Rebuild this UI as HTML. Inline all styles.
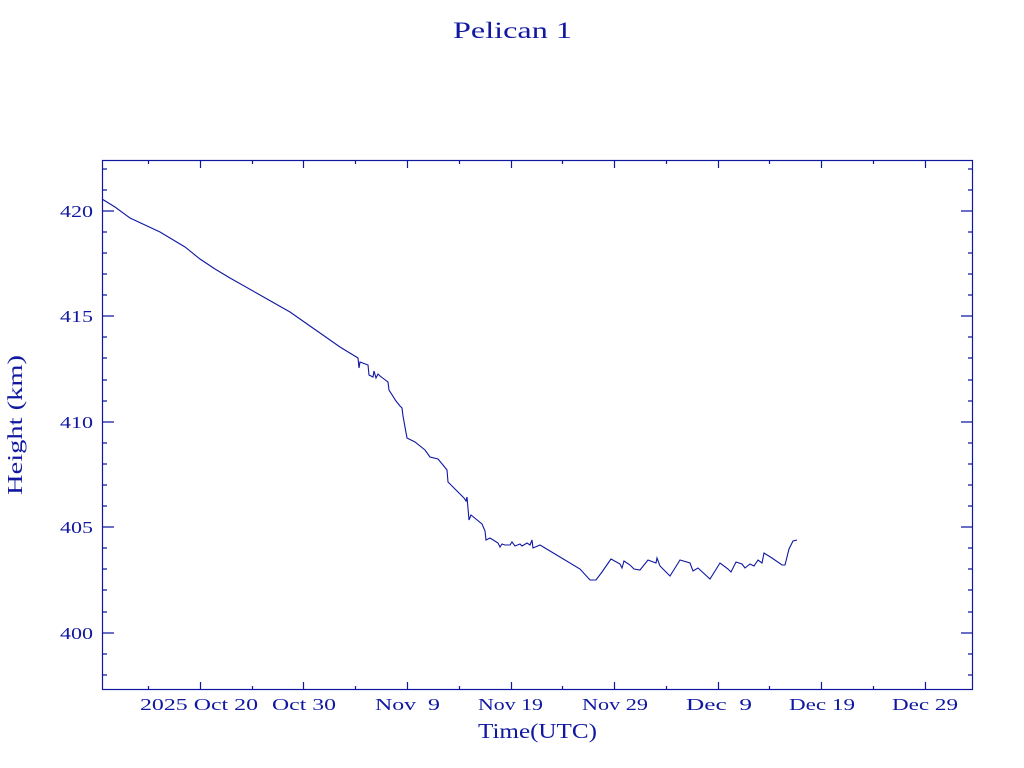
<!DOCTYPE html>
<html><head><style>
html,body{margin:0;padding:0;background:#fff;}
svg{display:block;}
text{font-family:"Liberation Serif",serif;fill:#1018a0;}
</style></head><body>
<svg width="1024" height="768" viewBox="0 0 1024 768">
<g stroke="#1018a0" stroke-width="1.2" fill="none">
<rect x="102.5" y="160.5" width="870" height="529"/>
<path d="M102 169h5M102 190h5M102 211h12M102 232h5M102 253h5M102 274h5M102 295h5M102 316h12M102 337h5M102 358h5M102 380h5M102 401h5M102 422h12M102 443h5M102 464h5M102 485h5M102 506h5M102 527h12M102 548h5M102 569h5M102 590h5M102 612h5M102 633h12M102 654h5M102 675h5"/>
<path d="M973 169h-5M973 190h-5M973 211h-12M973 232h-5M973 253h-5M973 274h-5M973 295h-5M973 316h-12M973 337h-5M973 358h-5M973 380h-5M973 401h-5M973 422h-12M973 443h-5M973 464h-5M973 485h-5M973 506h-5M973 527h-12M973 548h-5M973 569h-5M973 590h-5M973 612h-5M973 633h-12M973 654h-5M973 675h-5"/>
<path d="M148.5 690v-4M200.5 690v-8M252.5 690v-4M303.5 690v-8M355.5 690v-4M407.5 690v-8M459.5 690v-4M511.5 690v-8M562.5 690v-4M614.5 690v-8M666.5 690v-4M718.5 690v-8M769.5 690v-4M821.5 690v-8M873.5 690v-4M925.5 690v-8"/>
<path d="M148.5 160v4M200.5 160v8M252.5 160v4M303.5 160v8M355.5 160v4M407.5 160v8M459.5 160v4M511.5 160v8M562.5 160v4M614.5 160v8M666.5 160v4M718.5 160v8M769.5 160v4M821.5 160v8M873.5 160v4M925.5 160v8"/>
<polyline stroke-width="1.1" points="102,199 115,207 130,218 160,232 185,247 200,259 215,269 230,278 260,295 290,312 310,326 330,340 340,347 358,358 359,368 360,362 368,365 369,375 373,377 374,371 376,378 378,374 380,376 388,382 389,390 396,401 400,406 402,408 403,416 407,438 415,442 425,450 430,457 438,459 443,465 447,470 448,482 458,492 464,498 466,501 467,497 469,520 471,515 482,524 485,531 486,540 490,538 498,543 500,547 502,544 505,545 510,545 512,542 515,546 520,544 522,546 527,543 530,545 532,540 533,548 540,545 560,557 580,569 590,580 596,580 602,572 611,559 620,564 622,568 624,561 630,565 634,569 640,570 648,560 656,563 657,558 660,566 670,576 680,560 690,563 693,571 698,568 710,579 720,563 728,569 731,572 736,562 742,564 745,568 750,564 754,566 758,560 762,563 764,553 772,558 782,565 785,565 789,549 793,541 797,540"/>
</g>
<text x="453" y="38" font-size="23" textLength="119" lengthAdjust="spacingAndGlyphs">Pelican 1</text>
<g font-size="17">
<text x="60" y="217" textLength="33" lengthAdjust="spacingAndGlyphs">420</text>
<text x="60" y="322" textLength="33" lengthAdjust="spacingAndGlyphs">415</text>
<text x="60" y="428" textLength="33" lengthAdjust="spacingAndGlyphs">410</text>
<text x="60" y="533" textLength="33" lengthAdjust="spacingAndGlyphs">405</text>
<text x="60" y="639" textLength="33" lengthAdjust="spacingAndGlyphs">400</text>
</g>
<g font-size="17">
<text x="140" y="710" textLength="118" lengthAdjust="spacingAndGlyphs">2025 Oct 20</text>
<text x="272" y="710" textLength="64" lengthAdjust="spacingAndGlyphs">Oct 30</text>
<text x="375" y="710" textLength="65" lengthAdjust="spacingAndGlyphs">Nov&#160;&#160;9</text>
<text x="478" y="710" textLength="65" lengthAdjust="spacingAndGlyphs">Nov 19</text>
<text x="582" y="710" textLength="66" lengthAdjust="spacingAndGlyphs">Nov 29</text>
<text x="686" y="710" textLength="66" lengthAdjust="spacingAndGlyphs">Dec&#160;&#160;9</text>
<text x="789" y="710" textLength="66" lengthAdjust="spacingAndGlyphs">Dec 19</text>
<text x="892" y="710" textLength="66" lengthAdjust="spacingAndGlyphs">Dec 29</text>
</g>
<text x="478" y="738" font-size="21" textLength="119" lengthAdjust="spacingAndGlyphs">Time(UTC)</text>
<text x="0" y="0" font-size="21" textLength="140" lengthAdjust="spacingAndGlyphs" transform="translate(22 495) rotate(-90)">Height (km)</text>
</svg>
</body></html>
